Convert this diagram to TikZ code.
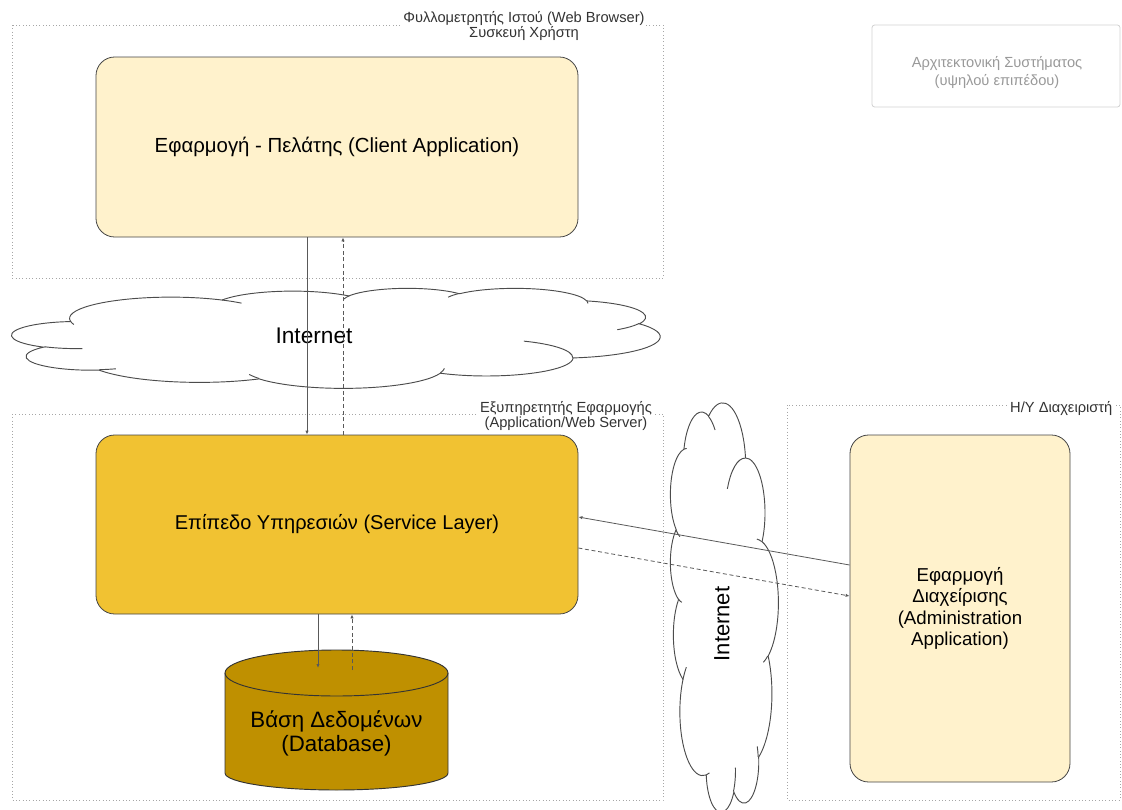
\documentclass[tikz,border=0pt]{standalone}
\usepackage{fontspec}
\setmainfont{Liberation Sans}
\usetikzlibrary{arrows.meta}
\definecolor{lightyel}{HTML}{FFF2CC}
\definecolor{gold}{HTML}{F1C232}
\definecolor{darkgold}{HTML}{BF9000}
\definecolor{edge}{HTML}{444444}
\tikzset{
  grp/.style={draw=gray!70, dotted, line width=0.5pt},
  grplabel/.style={font=\fontsize{11}{11}\selectfont, align=center, text=black!80, fill=white, inner sep=1pt},
  appbox/.style={draw=edge, rounded corners=14pt, line width=0.6pt},
  conn/.style={draw=black!65, line width=0.6pt, -{Latex[length=3pt,width=2.5pt]}},
  connd/.style={conn, dashed, dash pattern=on 3pt off 2pt},
  cloudline/.style={draw=black!70, line width=0.7pt},
}
\newcommand\cloudoutline{(3.900,14.370)
 arc[start angle=-187.747, delta angle=128.110, x radius=6.753, y radius=9.190]
 arc[start angle=-152.017, delta angle=106.582, x radius=5.333, y radius=7.267]
 arc[start angle=-153.487, delta angle=116.147, x radius=4.365, y radius=5.945]
 arc[start angle=-139.697, delta angle=129.485, x radius=4.857, y radius=6.595]
 arc[start angle=-74.768, delta angle=97.977, x radius=5.333, y radius=7.273]
 arc[start angle=-37.537, delta angle=119.400, x radius=6.775, y radius=9.220]
 arc[start angle=0.460, delta angle=121.518, x radius=5.785, y radius=7.867]
 arc[start angle=16.845, delta angle=129.402, x radius=6.752, y radius=9.215]
 arc[start angle=58.986, delta angle=91.212, x radius=7.720, y radius=10.543]
 arc[start angle=-276.694, delta angle=139.823, x radius=4.360, y radius=5.918]
 arc[start angle=-239.643, delta angle=143.755, x radius=4.345, y radius=5.945] -- cycle}
\newcommand\cloudhooks{
 (4.693,26.177) arc[start angle=85.547, delta angle=34.810, x radius=4.345, y radius=5.945]
 (6.928,34.899) arc[start angle=68.236, delta angle=15.070, x radius=4.360, y radius=5.918]
 (16.478,39.090) arc[start angle=146.247, delta angle=12.226, x radius=6.752, y radius=9.215]
 (28.827,34.751) arc[start angle=4.738, delta angle=12.107, x radius=6.752, y radius=9.215]
 (34.129,22.954) arc[start angle=-64.026, delta angle=64.486, x radius=5.785, y radius=7.867]
 (41.798,15.354) arc[start angle=23.209, delta angle=26.424, x radius=5.333, y radius=7.273]
 (38.324,5.426) arc[start angle=-10.212, delta angle=11.033, x radius=4.857, y radius=6.595]
 (29.078,3.952) arc[start angle=-156.281, delta angle=16.584, x radius=4.857, y radius=6.595]
 (22.141,4.720) arc[start angle=-167.727, delta angle=14.240, x radius=4.365, y radius=5.945]
 (14.000,5.192) arc[start angle=-59.637, delta angle=13.886, x radius=6.753, y radius=9.190]
 (4.127,15.789) arc[start angle=163.193, delta angle=9.060, x radius=6.753, y radius=9.190]}
\begin{document}
\begin{tikzpicture}[x=0.75pt,y=0.75pt]
\useasboundingbox (0,0) rectangle (1122,-810);
% groups
\draw[grp] (12,-25) rectangle (663,-278);
\node[grplabel] (lblbrowser) at (524,-26) {Φυλλομετρητής Ιστού (Web Browser)\\Συσκευή Χρήστη};
\draw[grp] (12,-414) rectangle (663,-800);
\node[grplabel] (lblserver) at (566,-416) {Εξυπηρετητής Εφαρμογής\\(Application/Web Server)};
\draw[grp] (787,-405) rectangle (1120,-800);
\node[grplabel, anchor=east] (lbladmin) at (1114,-408) {Η/Υ Διαχειριστή};
% title box
\node[draw=gray!35, line width=0.6pt, rounded corners=2pt, minimum width=248*0.75pt, minimum height=82*0.75pt] (titlebox) at (996,-66) {};
\node[text=gray!80, font=\fontsize{11}{13.5}\selectfont, align=center] (title) at (997,-72) {Αρχιτεκτονική Συστήματος\\(υψηλού επιπέδου)};
% cloud 1 (horizontal)
\begin{scope}[shift={(12,-288)}, xscale=648/43.2, yscale=-100/43.2]
  \fill[white] \cloudoutline;
  \draw[cloudline] \cloudoutline;
  \draw[cloudline] \cloudhooks;
\end{scope}
\node[font=\fontsize{17}{19}\selectfont] (net1) at (314,-336) {Internet};
% cloud 2 (vertical)
\begin{scope}[shift={(724,-607.5)}, rotate=90]
 \begin{scope}[shift={(-204.5,54)}, xscale=409/43.2, yscale=-108/43.2]
  \fill[white] \cloudoutline;
  \draw[cloudline] \cloudoutline;
  \draw[cloudline] \cloudhooks;
 \end{scope}
\end{scope}
\node[font=\fontsize{16.5}{18}\selectfont, rotate=90] (net2) at (722,-624) {Internet};
% apps
\node[appbox, fill=lightyel, minimum width=482*0.75pt, minimum height=180*0.75pt, font=\fontsize{15.3}{17}\selectfont] (client) at (337,-147) {Εφαρμογή - Πελάτης (Client Application)};
\node[appbox, fill=gold, minimum width=482*0.75pt, minimum height=179*0.75pt, font=\fontsize{15}{17}\selectfont] (service) at (337,-524.5) {Επίπεδο Υπηρεσιών (Service Layer)};
\node[appbox, fill=lightyel, minimum width=220*0.75pt, minimum height=347*0.75pt, font=\fontsize{14}{16}\selectfont, align=center] (admin) at (960,-608.5) {Εφαρμογή\\Διαχείρισης\\(Administration\\Application)};
% database cylinder
\filldraw[draw=black!80, line width=0.7pt, fill=darkgold] (225,-673) -- (225,-773) arc[start angle=180, end angle=360, x radius=111.5, y radius=17] -- (448,-673) arc[start angle=0, end angle=180, x radius=111.5, y radius=23] -- cycle;
\draw[black!80, line width=0.7pt] (225,-673) arc[start angle=180, end angle=360, x radius=111.5, y radius=23];
\coordinate (dbtop) at (336.5,-650);
\node[align=center, font=\fontsize{16.7}{18}\selectfont] (db) at (336.5,-733) {Βάση Δεδομένων\\(Database)};
% connectors
\draw[conn] (client.south -| 307,0) -- (service.north -| 307,0);
\draw[connd] (service.north -| 343,0) -- (client.south -| 343,0);
\draw[conn] (service.south -| 318,0) -- ([xshift=-18.5*0.75pt,yshift=-18*0.75pt]dbtop);
\draw[connd] ([xshift=15.5*0.75pt,yshift=-20*0.75pt]dbtop) -- (service.south -| 352,0);
\draw[conn] (admin.west |- 0,-565) -- (service.east |- 0,-517);
\draw[connd] (service.east |- 0,-548) -- (admin.west |- 0,-596);
\end{tikzpicture}
\end{document}
